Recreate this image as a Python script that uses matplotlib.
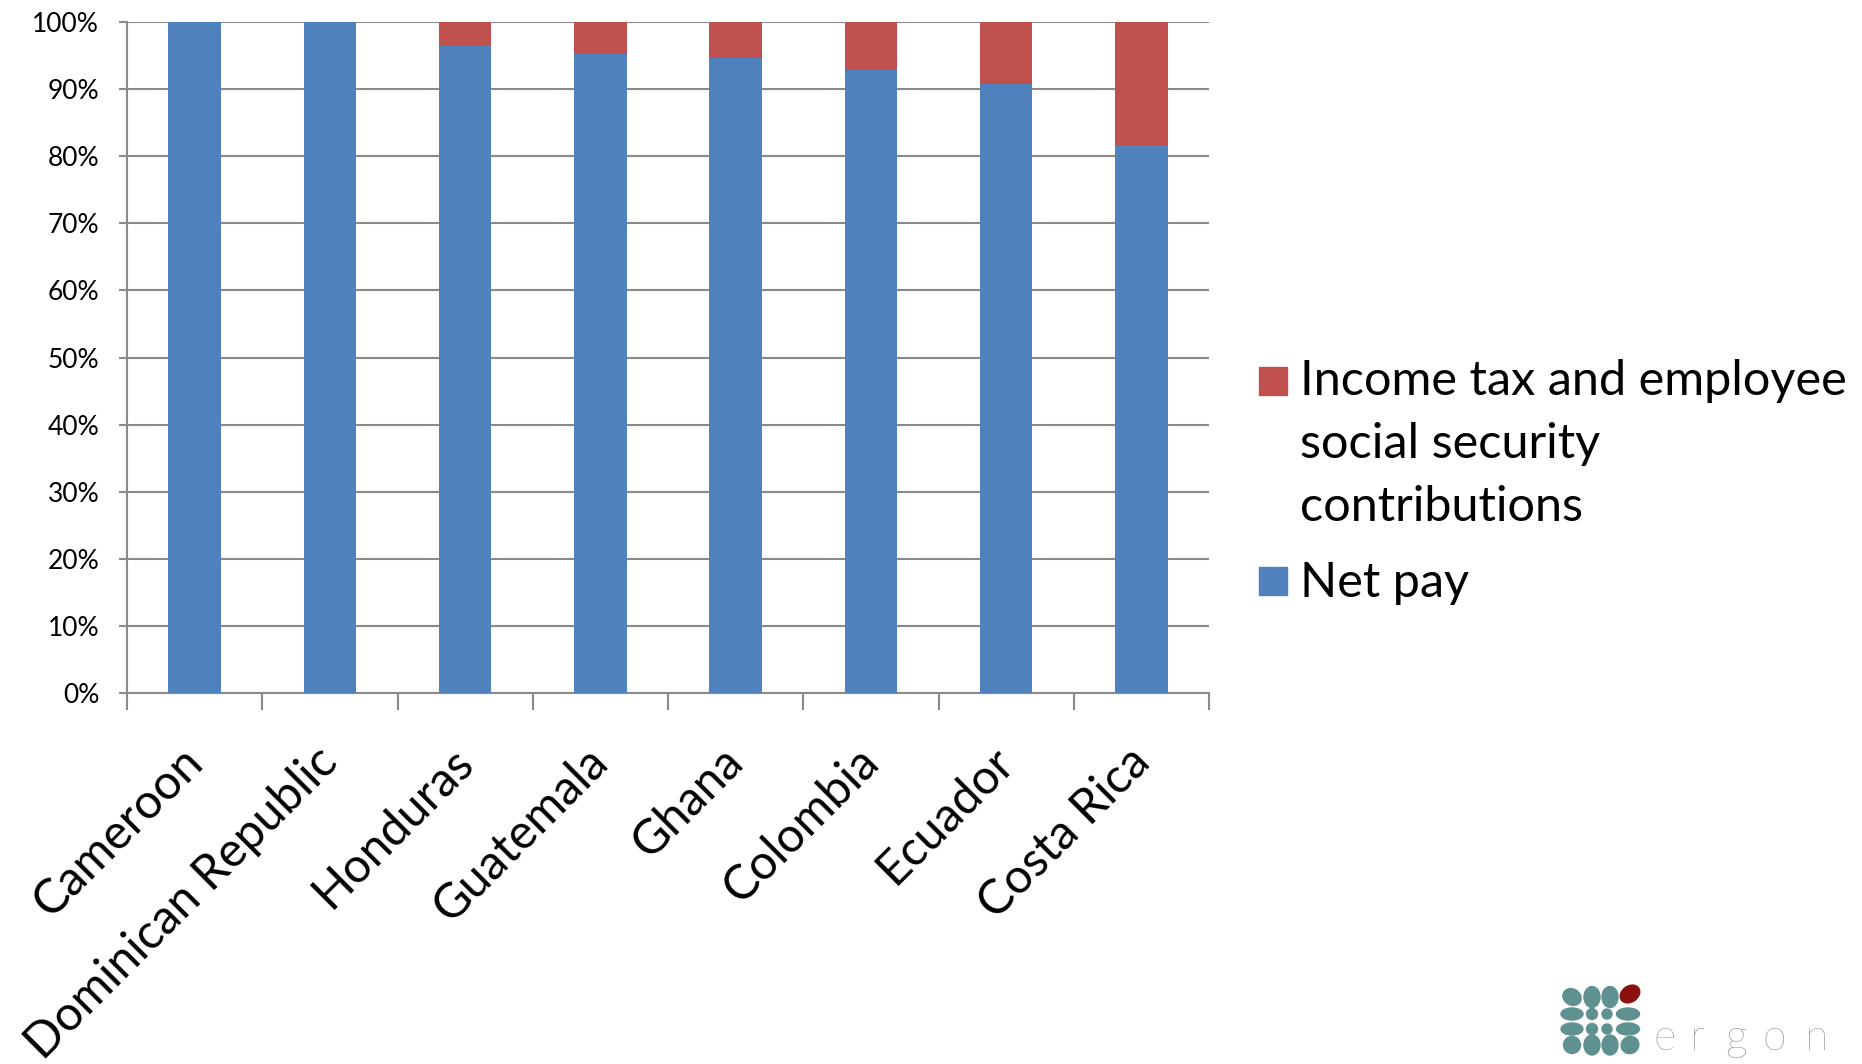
import matplotlib
matplotlib.use("Agg")
import matplotlib.pyplot as plt
from matplotlib.patches import Rectangle, Ellipse
import numpy as np

plt.rcParams['font.family'] = ['Lato', 'DejaVu Sans']

countries = ["Cameroon", "Dominican Republic", "Honduras", "Guatemala",
             "Ghana", "Colombia", "Ecuador", "Costa Rica"]
net_pay = [100.0, 100.0, 96.4, 95.2, 94.6, 92.9, 90.7, 81.7]
tax_ssc = [0.0, 0.0, 3.6, 4.8, 5.4, 7.1, 9.3, 18.3]
legend_labels = ["Income tax and employee\nsocial security\ncontributions", "Net pay"]
y_ticks = list(range(0, 101, 10))

BLUE = "#4F81BD"
RED = "#C0504D"
GRID = "#8a8a8a"

W, H = 1862, 1064
fig = plt.figure(figsize=(W / 100, H / 100), dpi=100)
ax = fig.add_axes([127 / W, 1 - 693 / H, (1209 - 127) / W, (693 - 22) / H])

x = np.arange(len(countries))
ax.bar(x, net_pay, width=0.39, color=BLUE, zorder=3)
ax.bar(x, tax_ssc, width=0.39, bottom=net_pay, color=RED, zorder=3)

ax.set_xlim(-0.5, len(countries) - 0.5)
ax.set_ylim(0, 100)
ax.set_yticks(y_ticks)
ax.set_yticklabels([f"{v}%" for v in y_ticks], fontsize=19)
ax.yaxis.grid(True, color=GRID, linewidth=1.5, zorder=0)
ax.set_axisbelow(True)

# slanted category labels end just left of each bar centre;
# visible tick marks sit between categories
ax.set_xticks(x - 0.11)
ax.set_xticklabels(countries, rotation=45, ha='right', rotation_mode='anchor', fontsize=34.5)
ax.set_xticks(np.arange(len(countries) + 1) - 0.5, minor=True)
ax.tick_params(axis='x', which='major', length=0, pad=33)
ax.tick_params(axis='x', which='minor', length=12, width=1.5, color=GRID)
ax.tick_params(axis='y', length=6, width=1.5, color=GRID, pad=14)

for side in ['top', 'right']:
    ax.spines[side].set_visible(False)
for side in ['left', 'bottom']:
    ax.spines[side].set_color(GRID)
    ax.spines[side].set_linewidth(1.5)

# legend drawn by hand so the swatch sits on the first line
fig.patches.append(Rectangle((1259 / W, 1 - 395 / H), 28 / W, 28 / H, color=RED,
                             transform=fig.transFigure, figure=fig))
fig.patches.append(Rectangle((1259 / W, 1 - 595 / H), 28 / W, 28 / H, color=BLUE,
                             transform=fig.transFigure, figure=fig))
fig.text(1300 / W, 1 - 520.7 / H, legend_labels[0], fontsize=35, va='baseline',
         ha='left', linespacing=1.52)
fig.text(1300 / W, 1 - 597 / H, legend_labels[1], fontsize=35, va='baseline', ha='left')

# ergon logo
lax = fig.add_axes([1555 / W, 1 - 1062 / H, 95 / W, 85 / H])
lax.set_xlim(1555, 1650)
lax.set_ylim(1062, 977)
lax.axis('off')
TEAL = "#5f9190"
blobs = [
    (1572, 997, 19, 16, 30), (1592, 997, 16, 21, 0), (1610, 997, 16, 21, 0),
    (1572, 1014, 22, 12, 0), (1592, 1014, 11, 11, 0), (1607, 1014, 10, 10, 0), (1628, 1014, 23, 12, 0),
    (1572, 1029, 22, 12, 0), (1592, 1029, 11, 11, 0), (1607, 1029, 10, 10, 0), (1628, 1029, 23, 12, 0),
    (1572, 1045, 17, 17, 0), (1592, 1045, 16, 20, 0), (1610, 1045, 16, 20, 0), (1630, 1045, 18, 17, -30),
]
for cx, cy, w, h, a in blobs:
    lax.add_patch(Ellipse((cx, cy), w, h, angle=a, color=TEAL))
lax.add_patch(Ellipse((1630, 994), 21, 16, angle=-35, color="#8b1111"))

for ch, cx in zip("ergon", [1665, 1697, 1736, 1774, 1817]):
    fig.text(cx / W, 1 - 1050 / H, ch, fontsize=31, fontweight='light', color="#6e6e6e",
             ha='center', va='baseline')

fig.savefig("out.png", dpi=100)
